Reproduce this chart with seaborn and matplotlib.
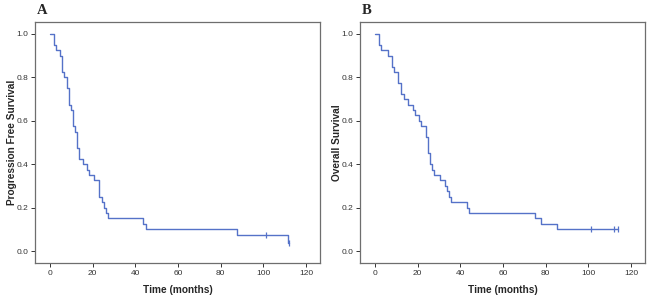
import matplotlib
matplotlib.use("Agg")
import matplotlib.pyplot as plt
import seaborn as sns
import pandas as pd

# Kaplan-Meier step values (time in months, survival proportion)
pfs_time = [0, 1.9, 2.8, 4.7, 5.8, 6.7, 7.8, 8.9, 9.8, 10.9, 11.9, 12.8, 13.8, 15.6,
            17.5, 18.4, 20.8, 22.8, 24.2, 25.3, 26.2, 27.0, 43.7, 44.8, 87.5, 111.3, 112.0]
pfs_surv = [1.0, 0.95, 0.925, 0.9, 0.825, 0.8, 0.75, 0.675, 0.65, 0.575, 0.55, 0.475, 0.425, 0.4,
            0.375, 0.35, 0.325, 0.25, 0.225, 0.2, 0.175, 0.15, 0.125, 0.1, 0.075, 0.0375, 0.0375]
pfs_cens_time = [101.0, 112.0]
pfs_cens_surv = [0.075, 0.0375]

os_time = [0, 2.0, 2.8, 5.9, 7.9, 8.9, 11.0, 12.0, 13.8, 15.7, 17.9, 18.8, 20.7, 21.7,
           23.8, 24.7, 25.6, 26.6, 27.8, 30.6, 32.6, 33.7, 34.6, 35.6, 43.0, 43.9, 75.0,
           78.0, 85.2, 114.0]
os_surv = [1.0, 0.95, 0.925, 0.9, 0.85, 0.825, 0.775, 0.725, 0.7, 0.675, 0.65, 0.625, 0.6, 0.575,
           0.525, 0.45, 0.4, 0.375, 0.35, 0.325, 0.3, 0.275, 0.25, 0.225, 0.2, 0.175, 0.15,
           0.125, 0.1, 0.1]
os_cens_time = [101.0, 112.2, 114.0]
os_cens_surv = [0.1, 0.1, 0.1]

panels = [
    ("A", "Progression Free Survival", pfs_time, pfs_surv, pfs_cens_time, pfs_cens_surv),
    ("B", "Overall Survival", os_time, os_surv, os_cens_time, os_cens_surv),
]

sns.set_style("white")
plt.rcParams["font.family"] = ["Liberation Sans", "DejaVu Sans"]

line_color = "#5572c8"
W, H = 650, 301
fig = plt.figure(figsize=(6.5, 3.01), dpi=100)

lefts = [35, 360]
for (tag, ylabel, t, s, ct, cs), left in zip(panels, lefts):
    ax = fig.add_axes([left / W, (H - 263) / H, 285 / W, 241 / H])
    df = pd.DataFrame({"time": t, "surv": s})
    sns.lineplot(data=df, x="time", y="surv", drawstyle="steps-post", estimator=None,
                 sort=False, color=line_color, linewidth=1.0, ax=ax)
    cens = pd.DataFrame({"time": ct, "surv": cs})
    sns.scatterplot(data=cens, x="time", y="surv", marker="|", s=25, linewidth=0.9,
                    color=line_color, ax=ax, zorder=3)

    ax.set_xlim(-7, 126.5)
    ax.set_ylim(-0.055, 1.055)
    ax.set_xticks(range(0, 121, 20))
    ax.set_yticks([0.0, 0.2, 0.4, 0.6, 0.8, 1.0])
    ax.set_yticklabels(["0.0", "0.2", "0.4", "0.6", "0.8", "1.0"])
    ax.tick_params(axis="both", labelsize=6, colors="#333333", length=3, width=0.7,
                   direction="out", left=True, bottom=True, pad=2)
    for sp in ax.spines.values():
        sp.set_visible(True)
        sp.set_color("#6e6e6e")
        sp.set_linewidth(0.9)

    ax.set_xlabel("Time (months)", fontsize=7.3, fontweight="bold")
    ax.set_ylabel(ylabel, fontsize=7.3, fontweight="bold")
    ax.xaxis.set_label_coords(0.5, -(285 - 263) / 241)
    ax.yaxis.set_label_coords(-(35 - 17) / 285, 0.5)
    fig.text((left + 2) / W, 1 - 11 / H, tag, fontsize=10.5, fontweight="bold",
             family="Liberation Serif", va="center", ha="left")

fig.savefig("out.png", dpi=100)
